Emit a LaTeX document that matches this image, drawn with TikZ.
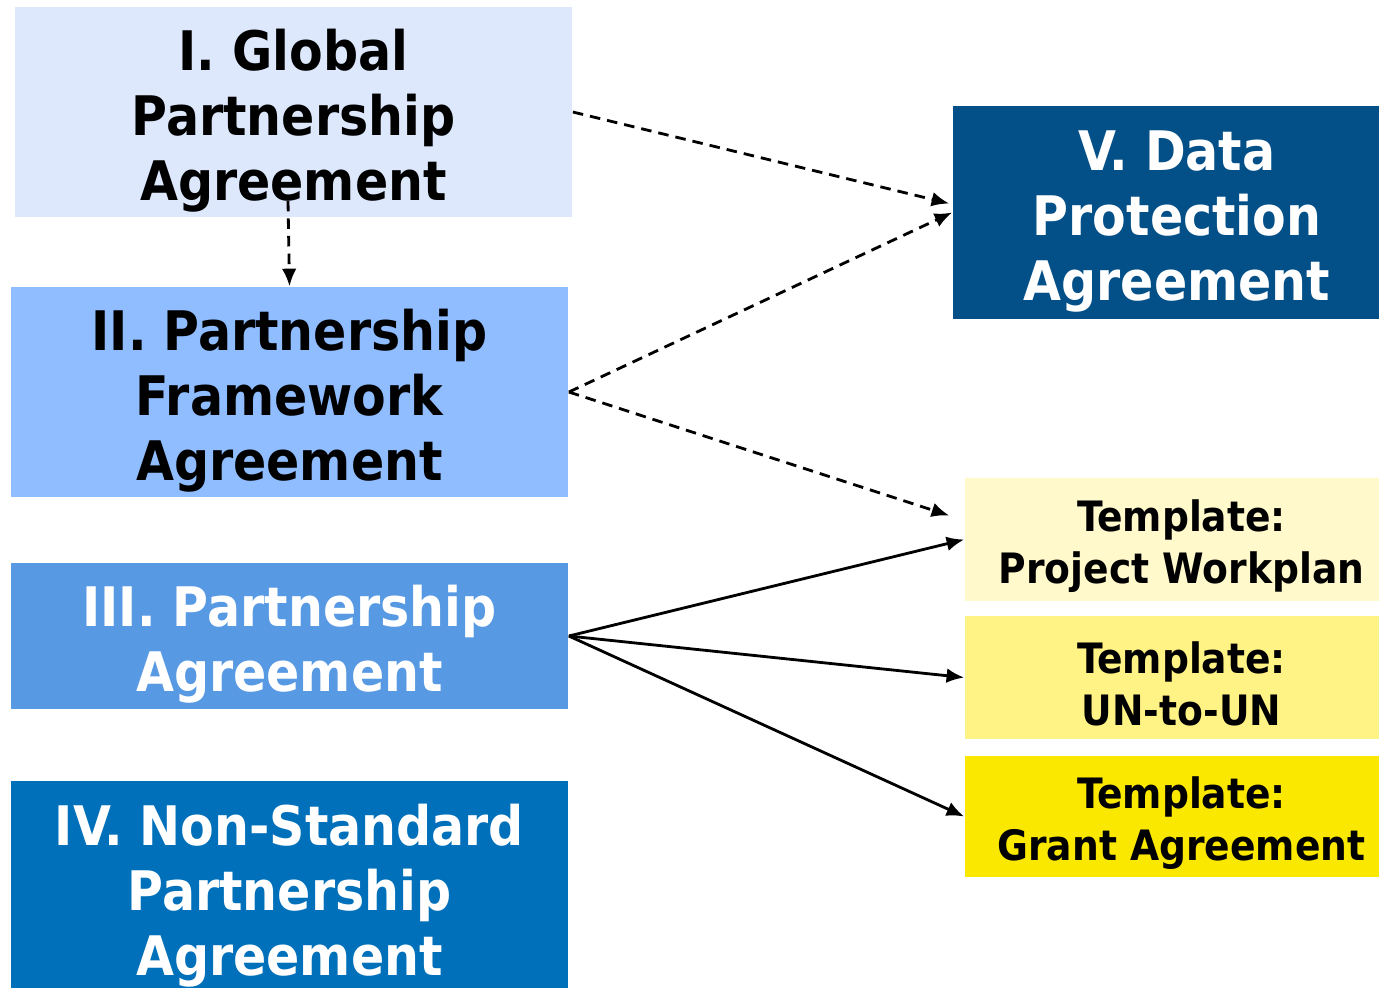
\documentclass[tikz,border=0pt]{standalone}
\usepackage{fontspec}
\setmainfont{DejaVu Sans Condensed}
\usetikzlibrary{calc}
\usetikzlibrary{arrows.meta}
\definecolor{globalblue}{HTML}{DDE8FD}
\definecolor{frameblue}{HTML}{8FBDFF}
\definecolor{partblue}{HTML}{5899E3}
\definecolor{nonstdblue}{HTML}{0070BA}
\definecolor{datablue}{HTML}{034F87}
\definecolor{tplone}{HTML}{FFF9CC}
\definecolor{tpltwo}{HTML}{FFF385}
\definecolor{tplthree}{HTML}{FBE800}
\newcommand{\topgap}{\rule{0pt}{1.07em}}
\tikzset{
	agreement/.style={rectangle, inner sep=0pt, align=center, minimum width=5.57cm, minimum height=2.1cm,
		font=\fontsize{15.5}{18.5}\selectfont\bfseries},
	template/.style={rectangle, inner sep=0pt, align=center, minimum width=4.33cm, minimum height=1.23cm,
		font=\fontsize{11.9}{14.8}\selectfont\bfseries},
	dasharrow/.style={draw, -{Latex[length=5pt,width=4.2pt]}, line width=0.8pt, dash pattern=on 3pt off 2pt},
	arrow/.style={draw, -{Latex[length=5pt,width=4.2pt]}, line width=0.8pt}
}
\begin{document}
\begin{tikzpicture}[x=0.01cm, y=-0.01cm]

\useasboundingbox (0,0) rectangle (1379,987);

\node[agreement, fill=globalblue] (global) at (293.5,112)
	{\topgap I. Global\\Partnership\\Agreement};

\node[agreement, fill=frameblue] (framework) at (289.5,392)
	{\topgap II. Partnership\\Framework\\Agreement};

\node[agreement, fill=partblue, text=white, minimum height=1.46cm] (partner) at (289.5,636)
	{\topgap III. Partnership\\Agreement};

\node[agreement, fill=nonstdblue, text=white, minimum height=2.12cm] (nonstd) at (289.5,887)
	{\topgap IV. Non-Standard\\Partnership\\Agreement};

\node[agreement, fill=datablue, text=white, minimum width=4.48cm, minimum height=2.13cm] (data) at (1177,212.5)
	{\topgap V. Data\\Protection\\Agreement};

\node[template, fill=tplone] (workplan) at (1181.5,539.5)
	{\topgap Template:\\Project Workplan};

\node[template, fill=tpltwo] (untoun) at (1181.5,677.5)
	{\topgap Template:\\UN-to-UN};

\node[template, fill=tplthree, minimum height=1.21cm] (grant) at (1181.5,816.5)
	{\topgap Template:\\Grant Agreement};

\draw [dasharrow] ($(global.south -| framework.north)+(-1.5,-17)$) -- (framework.north);
\draw [dasharrow] (global.east) -- ($(data.west)+(-3,-9)$);
\draw [dasharrow] (framework.east) -- (data.west);
\draw [dasharrow] (framework.east) -- ($(workplan.west)+(-15,-24)$);
\draw [arrow] (partner.east) -- (workplan.west);
\draw [arrow] (partner.east) -- (untoun.west);
\draw [arrow] (partner.east) -- (grant.west);

\end{tikzpicture}
\end{document}
